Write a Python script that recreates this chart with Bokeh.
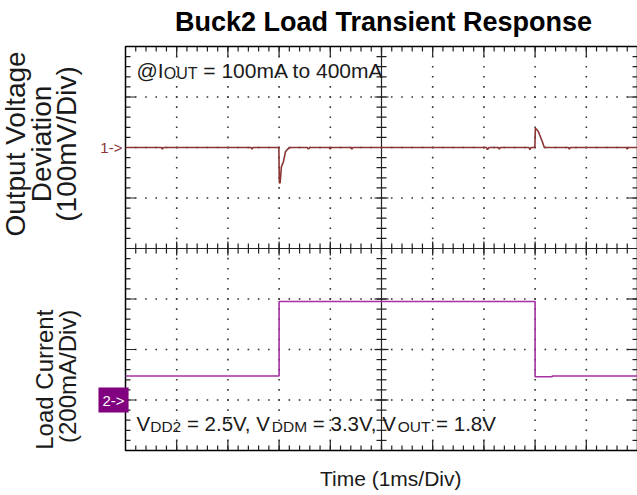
import numpy as np
from bokeh.plotting import figure
from bokeh.models import Range1d, Label
from bokeh.embed import file_html
from bokeh.resources import INLINE

# ---- data (time in ms, 1 ms/div) ----
t_volt = [0.0, 0.70, 0.72, 0.74, 2.45, 2.47, 2.49, 2.995, 3.005, 3.02, 3.045, 3.085,
          3.125, 3.17, 3.22, 3.55, 3.57, 3.60, 3.98, 4.00, 4.02, 4.40, 4.42, 4.44,
          7.05, 7.07, 7.10, 7.28, 7.30, 7.32, 7.88, 7.90, 7.92, 7.995, 8.005, 8.04,
          8.07, 8.14, 8.18, 8.65, 8.67, 8.69, 9.78, 9.80, 9.82, 10.0]
v_dev_mv = [0, 0, -3, 0, 0, -3, 0, 0, -70, -70, -38, -28,
            -8, -3, 0, 0, -3, 0, 0, -3, 0, 0, -3, 0,
            0, -4, 0, 0, -3, 0, 0, -4, 0, 0, 38, 35,
            30, 12, 0, 0, -3, 0, 0, -3, 0, 0]

t_curr = [0.0, 3.0, 3.0, 8.0, 8.0, 8.33, 8.34, 10.0]
i_load_ma = [95, 95, 390, 390, 92, 92, 95, 95]

title_text = "Buck2 Load Transient Response"
x_label = "Time (1ms/Div)"
v_label = ["Output Voltage", "Deviation", "(100mV/Div)"]
i_label = ["Load Current", "(200mA/Div)"]

VCOL = "#8B3434"
ICOL = "#A52FA5"
FONT = "Liberation Sans"
TXT = "#1a1a1a"
TICK = "#222222"

W, H = 637, 495
GL, GR, GT, GB = 125.0, 637.0, 46.0, 450.0   # graticule box in canvas pixels
PXX = (GR - GL) / 10.0                        # px per ms
PXY = (GB - GT) / 8.0                         # px per division

x0, x1 = -GL / PXX, (W - GL) / PXX
y0, y1 = -(H - GB) / PXY, GB / PXY

p = figure(width=W, height=H, x_range=Range1d(x0, x1), y_range=Range1d(y0, y1),
           x_axis_type=None, y_axis_type=None, toolbar_location=None,
           output_backend="svg", min_border=0)
# channel scales: ch1 zero at division 6 (100 mV/div), ch2 zero at division 1 (200 mA/div)
p.extra_y_ranges = {"v": Range1d(-600 + 100 * y0, -600 + 100 * y1),
                    "i": Range1d(-200 + 200 * y0, -200 + 200 * y1)}
p.background_fill_color = "white"
p.border_fill_color = "white"
p.outline_line_color = None

# ---- graticule: dotted grid ----
minor_y = np.round(np.arange(0.2, 8.0, 0.2), 2)
minor_x = np.round(np.arange(0.2, 10.0, 0.2), 2)
dx, dy = [], []
for gx in [1, 2, 3, 4, 6, 7, 8, 9]:
    dx += [gx] * len(minor_y); dy += list(minor_y)
for gy in [1, 2, 3, 5, 6, 7]:
    dx += list(minor_x); dy += [gy] * len(minor_x)
p.scatter(dx, dy, marker="square", size=1.6, fill_color="#333333", line_color=None)

major_y = np.arange(1, 8)
major_x = np.arange(1, 10)

# center cross lines
p.segment(x0=[5, 0], y0=[0, 4], x1=[5, 10], y1=[8, 4], line_color=TICK, line_width=1.2)

def hticks(xc, ys, left_px, right_px):
    ys = np.asarray(ys, dtype=float)
    p.segment(x0=np.full(len(ys), xc - left_px / PXX), y0=ys,
              x1=np.full(len(ys), xc + right_px / PXX), y1=ys,
              line_color=TICK, line_width=1.2)

def vticks(yc, xs, down_px, up_px):
    xs = np.asarray(xs, dtype=float)
    p.segment(x0=xs, y0=np.full(len(xs), yc - down_px / PXY),
              x1=xs, y1=np.full(len(xs), yc + up_px / PXY),
              line_color=TICK, line_width=1.2)

# ticks on center lines
hticks(5, minor_y, 5, 5); hticks(5, major_y, 7, 7)
vticks(4, minor_x, 5, 5); vticks(4, major_x, 7, 7)
# ticks on border, pointing inward
hticks(0, minor_y, 0, 5); hticks(0, major_y, 0, 10)
hticks(10, minor_y, 5, 0); hticks(10, major_y, 10, 0)
vticks(0, minor_x, 0, 5); vticks(0, major_x, 0, 10)
vticks(8, minor_x, 5, 0); vticks(8, major_x, 10, 0)

# border
p.quad(left=[0], right=[10], bottom=[0], top=[8], fill_color=None,
       line_color="black", line_width=1.5)

# ---- traces ----
p.line(t_volt, v_dev_mv, y_range_name="v", line_color=VCOL, line_width=1.6)
p.line(t_curr, i_load_ma, y_range_name="i", line_color=ICOL, line_width=1.6)

# ---- channel markers ----
p.add_layout(Label(x=-0.06, y=0, y_range_name="v", text="1->", text_font=FONT,
                   text_font_size="15px", text_color=VCOL, text_align="right",
                   text_baseline="middle"))
p.add_layout(Label(x=0.06, y=0, y_range_name="i", text="2->", text_font=FONT,
                   text_font_size="15px", text_color="white", text_align="right",
                   text_baseline="middle", background_fill_color="#800080", padding=4))

# ---- title & axis labels ----
p.add_layout(Label(x=5.04, y=8.476, text=title_text, text_font=FONT, text_font_size="27px",
                   text_font_style="bold", text_color="black", text_align="center",
                   text_baseline="alphabetic"))
p.add_layout(Label(x=5.18, y=-0.562, text=x_label, text_font=FONT, text_font_size="21px",
                   text_color=TXT, text_align="center", text_baseline="alphabetic"))
for txt, bx in zip(v_label, [-2.15, -1.650, -1.162]):
    p.add_layout(Label(x=bx, y=6.07, text=txt, text_font=FONT, text_font_size="28px",
                       text_color=TXT, text_align="center", text_baseline="alphabetic",
                       angle=np.pi / 2))
for txt, bx, cy in zip(i_label, [-1.582, -1.127], [1.402, 1.469]):
    p.add_layout(Label(x=bx, y=cy, text=txt, text_font=FONT, text_font_size="24px",
                       text_color=TXT, text_align="center", text_baseline="alphabetic",
                       angle=np.pi / 2))

# ---- annotations with small-caps subscripts ----
def rich(x, y, parts):
    for off, txt, size, small in parts:
        yy = y - (3.0 / PXY if small else 0.0)
        p.add_layout(Label(x=x, y=yy, x_offset=off, text=txt, text_font=FONT,
                           text_font_size=size, text_color=TXT, text_align="left",
                           text_baseline="alphabetic"))

rich(0.215, 7.525, [(0, "@I", "21px", False), (27.2, "OUT", "16px", True),
                    (66.8, "= 100mA to 400mA", "21px", False)])
rich(0.215, 0.54, [(0, "V", "20.5px", False), (13.7, "DD2", "15.5px", True),
                   (50.4, "= 2.5V, V", "20.5px", False), (135.3, "DDM", "15.5px", True),
                   (176.3, "= 3.3V, V", "20.5px", False), (261.2, "OUT", "15.5px", True),
                   (299.6, "= 1.8V", "20.5px", False)])

open("out.html", "w").write(file_html(p, INLINE))
